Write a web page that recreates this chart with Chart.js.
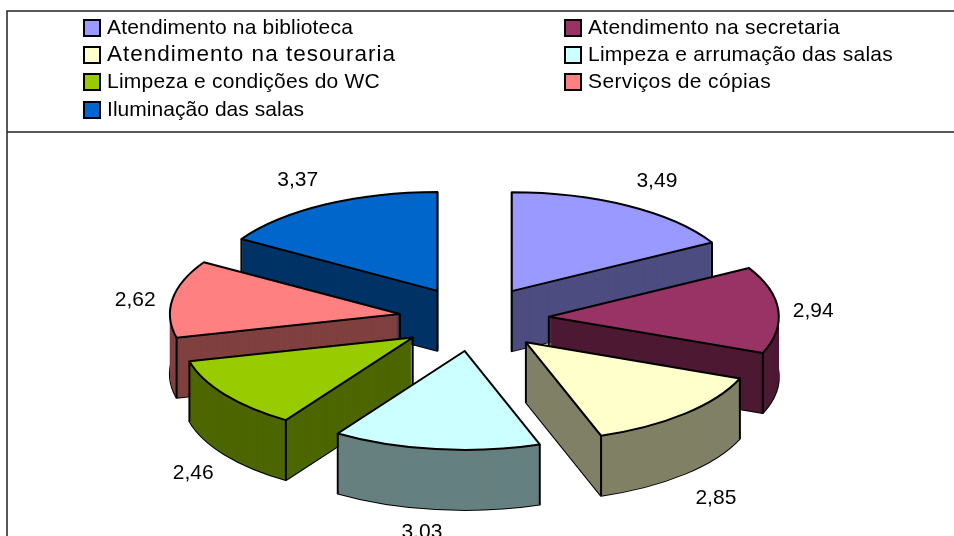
<!DOCTYPE html>
<html><head><meta charset="utf-8">
<style>html,body{margin:0;padding:0;background:#fff}#w{width:954px;height:536px;position:relative}</style>
<script src="https://cdn.jsdelivr.net/npm/chart.js@4/dist/chart.umd.min.js"></script>
</head><body><div id="w"><canvas id="c" width="954" height="536"></canvas></div>
<script>
const categories = ["Atendimento na biblioteca","Atendimento na secretaria","Atendimento na tesouraria","Limpeza e arrumação das salas","Limpeza e condições do WC","Serviços de cópias","Iluminação das salas"];
const values = [3.49,2.94,2.85,3.03,2.46,2.62,3.37];
const valueLabels = ["3,49","2,94","2,85","3,03","2,46","2,62","3,37"];
const topColors = ["#9999FF","#993366","#FFFFCC","#CCFFFF","#99CC00","#FF8080","#0066CC"];
const sideColors = ["#4D4D80","#4D1933","#808066","#668080","#4D6600","#804040","#003366"];
const legendRows = [[84,28],[565,28],[84,55],[565,55],[84,82],[565,82],[84,110]];
const legendTextWidths = [246,252,289,305,273,183,197];
const legendFontSizes = [21,21,22.5,21,21,21,21];
const labelNudges = [[6,-7],[-11,3],[-1,27],[-8,4],[6,33],[8,4],[-5,-7]];

const TILT=0.43, EXPLODE=75, DEPTH=60, LABEL_R=276;
const FONT='"Liberation Sans", Arial, sans-serif';

function geom(arc){
  const mid=(arc.startAngle+arc.endAngle)/2;
  return {mid,cx:arc.x+Math.cos(mid)*EXPLODE,cy:arc.y+Math.sin(mid)*EXPLODE*TILT,R:arc.outerRadius};
}
function trace(ctx,arc,g,dy){
  ctx.beginPath();
  ctx.moveTo(g.cx,g.cy+dy);
  ctx.ellipse(g.cx,g.cy+dy,g.R,g.R*TILT,0,arc.startAngle,arc.endAngle);
  ctx.closePath();
}
const pie3d={
  id:'pie3d',
  beforeDatasetDraw(chart){
    const ctx=chart.ctx, arcs=chart.getDatasetMeta(0).data;
    const order=arcs.map((a,i)=>i).sort((a,b)=>geom(arcs[a]).cy-geom(arcs[b]).cy);
    order.forEach(i=>{
      const arc=arcs[i], g=geom(arc);
      ctx.save();
      ctx.strokeStyle='#000'; ctx.lineWidth=2; ctx.lineJoin='round';
      trace(ctx,arc,g,DEPTH); ctx.stroke();
      ctx.fillStyle=sideColors[i];
      for(let d=DEPTH;d>=0;d--){trace(ctx,arc,g,d);ctx.fill();}
      [[g.cx,g.cy],
       [g.cx+g.R*Math.cos(arc.startAngle),g.cy+g.R*TILT*Math.sin(arc.startAngle)],
       [g.cx+g.R*Math.cos(arc.endAngle),g.cy+g.R*TILT*Math.sin(arc.endAngle)]].forEach(p=>{
        ctx.beginPath();ctx.moveTo(p[0],p[1]);ctx.lineTo(p[0],p[1]+DEPTH);ctx.stroke();
      });
      ctx.restore();
      ctx.save();
      ctx.translate(g.cx,g.cy);ctx.scale(1,TILT);ctx.translate(-arc.x,-arc.y);
      arc.draw(ctx);
      ctx.restore();
      ctx.save();
      ctx.strokeStyle='#000';ctx.lineWidth=2;ctx.lineJoin='round';
      trace(ctx,arc,g,0);ctx.stroke();
      ctx.restore();
    });
    ctx.save();
    ctx.fillStyle='#000';ctx.font='21px '+FONT;ctx.textAlign='center';ctx.textBaseline='middle';
    arcs.forEach((arc,i)=>{
      const g=geom(arc);
      const x=g.cx+Math.cos(g.mid)*LABEL_R+labelNudges[i][0];
      const y=g.cy+Math.sin(g.mid)*LABEL_R*TILT+Math.max(0,Math.sin(g.mid))*DEPTH+labelNudges[i][1];
      ctx.fillText(valueLabels[i],x,y);
    });
    ctx.restore();
    return false;
  },
  afterDraw(chart){
    const ctx=chart.ctx;
    ctx.save();
    ctx.strokeStyle='#222';ctx.lineWidth=1.5;
    ctx.beginPath();ctx.moveTo(954,11);ctx.lineTo(7,11);ctx.lineTo(7,536);ctx.moveTo(7,132);ctx.lineTo(954,132);ctx.stroke();
    ctx.textBaseline='middle';ctx.textAlign='left';
    categories.forEach((t,i)=>{
      const [x,y]=legendRows[i];
      ctx.fillStyle=topColors[i];ctx.strokeStyle='#000';ctx.lineWidth=2;
      ctx.fillRect(x,y-8,16,16);ctx.strokeRect(x,y-8,16,16);
      ctx.fillStyle='#000';
      ctx.font=legendFontSizes[i]+'px '+FONT;
      ctx.letterSpacing='0px';
      const w=ctx.measureText(t).width;
      ctx.letterSpacing=((legendTextWidths[i]-w)/t.length).toFixed(3)+'px';
      ctx.fillText(t,x+23,y);
    });
    ctx.restore();
  }
};
new Chart(document.getElementById('c'),{
  type:'pie',
  data:{labels:categories,datasets:[{data:values,backgroundColor:topColors,borderWidth:0}]},
  options:{
    responsive:false,animation:false,radius:230,
    layout:{padding:{left:0,right:6,top:102,bottom:0}},
    plugins:{legend:{display:false},tooltip:{enabled:false},title:{display:false}}
  },
  plugins:[pie3d]
});
</script></body></html>
